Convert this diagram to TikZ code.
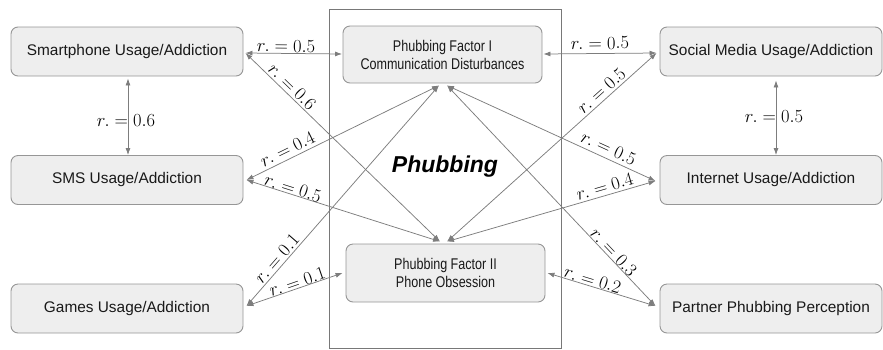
\RequirePackage{fix-cm}
\documentclass[tikz,border=0pt]{standalone}
\usepackage{fontspec}
\setmainfont{Liberation Sans}
\newfontfamily\narrowfont[FakeStretch=0.81]{Liberation Sans}
\usetikzlibrary{arrows.meta,calc}
\definecolor{linegray}{RGB}{125,125,125}
\definecolor{boxfill}{RGB}{238,238,238}
\definecolor{boxdraw}{RGB}{150,150,150}
\definecolor{framegray}{RGB}{120,120,120}
\definecolor{txt}{RGB}{25,25,25}
\begin{document}
\begin{tikzpicture}[x=1pt,y=-1pt,
  outer/.style={draw=boxdraw, fill=boxfill, rounded corners=7pt, line width=0.9pt,
    minimum width=232pt, minimum height=49pt, inner sep=0pt, text=txt,
    font=\fontsize{15.4}{18}\selectfont},
  outerR/.style={outer, minimum width=222pt},
  factor/.style={draw=boxdraw, fill=boxfill, rounded corners=7pt, line width=0.9pt,
    minimum width=199pt, minimum height=57pt, inner sep=0pt, text=txt, align=center,
    font=\narrowfont\fontsize{15.5}{18}\selectfont},
  framebox/.style={draw=framegray, line width=0.9pt, minimum width=232pt,
    minimum height=339pt, inner sep=0pt},
  titletext/.style={font=\fontsize{23}{26}\selectfont\bfseries\itshape, inner sep=0pt, anchor=base},
  conn/.style={draw=linegray, line width=0.75pt,
    {Latex[length=7pt,width=5pt]}-{Latex[length=7pt,width=5pt]}},
  lab/.style={font=\fontsize{18.5}{20}\selectfont, inner sep=0pt, sloped},
  vlab/.style={font=\fontsize{18.5}{20}\selectfont, inner sep=0pt}]
\useasboundingbox (0,0) rectangle (883,349);

\node[framebox] (frame) at (445,178.5) {};

\node[outer] (sp) at (127,51.5) {Smartphone Usage/Addiction};
\node[outer] (sms) at (127,180) {SMS Usage/Addiction};
\node[outer] (gm) at (127,308.5) {Games Usage/Addiction};
\node[outerR] (so) at (771,51.5) {Social Media Usage/Addiction};
\node[outerR] (in) at (771,180) {Internet Usage/Addiction};
\node[outerR] (pp) at (771,308.5) {Partner Phubbing Perception};
\node[factor] (f1) at (442.5,54.5) {Phubbing Factor I\\Communication Disturbances};
\node[factor, minimum height=58pt] (f2) at (445.5,273) {Phubbing Factor II\\Phone Obsession};
\node[titletext] (ph) at (445,172) {Phubbing};

\coordinate (sp-e) at ($(sp.east)+(2,1.5)$);
\coordinate (sp-s) at ($(sp.south)+(1,2)$);
\coordinate (sms-n) at ($(sms.north)+(1,0)$);
\coordinate (sms-e) at ($(sms.east)+(3,0)$);
\coordinate (gm-e) at ($(gm.east)+(3,-2.5)$);
\coordinate (so-w) at ($(so.west)+(-3,1.5)$);
\coordinate (so-s) at ($(so.south)+(5,4)$);
\coordinate (in-n) at ($(in.north)+(5,0)$);
\coordinate (in-w) at ($(in.west)+(-4,1)$);
\coordinate (pp-w) at ($(pp.west)+(-4,-2.5)$);
\coordinate (f1-w) at ($(f1.west)+(-0.5,-0.5)$);
\coordinate (f1-e) at ($(f1.east)+(1,-0.5)$);
\coordinate (f1-sl) at ($(f1.south)+(-3.5,2)$);
\coordinate (f1-sr) at ($(f1.south)+(4.5,2)$);
\coordinate (f2-nl) at ($(f2.north)+(-5.5,-2)$);
\coordinate (f2-nr) at ($(f2.north)+(1.5,-2)$);
\coordinate (f2-w) at ($(f2.west)+(-3,0)$);
\coordinate (f2-e) at ($(f2.east)+(2,0)$);

\draw[conn] (sp-e) -- node[lab,pos=.42,above=1pt]{$r. = 0.5$} (f1-w);
\draw[conn] (sp-e) -- node[lab,pos=.21,above=2pt]{$r. = 0.6$} (f2-nl);
\draw[conn] (sms-e) -- node[lab,pos=.235,above=3.5pt]{$r. = 0.4$} (f1-sl);
\draw[conn] (sms-e) -- node[lab,pos=.23,above=0pt]{$r. = 0.5$} (f2-nl);
\draw[conn] (gm-e) -- node[lab,pos=.19,above=2pt]{$r. = 0.1$} (f1-sl);
\draw[conn] (gm-e) -- node[lab,pos=.55,above=0pt]{$r. = 0.1$} (f2-w);
\draw[conn] (f1-e) -- node[lab,pos=.5,above=4pt]{$r. = 0.5$} (so-w);
\draw[conn] (f2-nr) -- node[lab,pos=.765,above=2.5pt]{$r. = 0.5$} (so-w);
\draw[conn] (f1-sr) -- node[lab,pos=.754,above=4pt]{$r. = 0.5$} (in-w);
\draw[conn] (f2-nr) -- node[lab,pos=.768,above=2.5pt]{$r. = 0.4$} (in-w);
\draw[conn] (f1-sr) -- node[lab,pos=.776,above=0.5pt]{$r. = 0.3$} (pp-w);
\draw[conn] (f2-e) -- node[lab,pos=.40,above=0.5pt]{$r. = 0.2$} (pp-w);
\draw[conn] (sp-s) -- node[vlab,pos=.55,xshift=-2pt]{$r. = 0.6$} (sms-n);
\draw[conn] (so-s) -- node[vlab,pos=.49,xshift=-2pt]{$r. = 0.5$} (in-n);
\end{tikzpicture}
\end{document}
